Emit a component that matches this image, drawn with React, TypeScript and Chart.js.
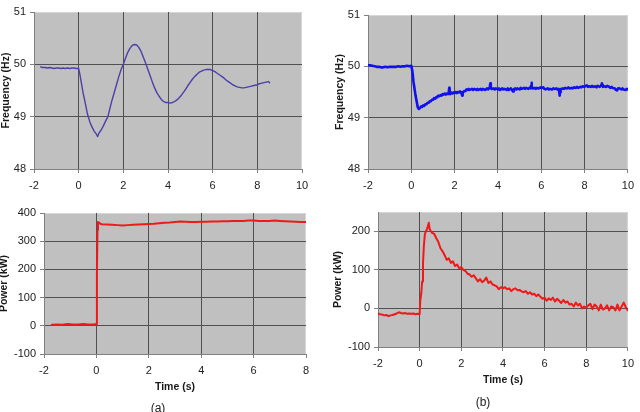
import React, { useEffect, useRef } from 'react';
import { Chart, registerables } from 'chart.js';

Chart.register(...registerables);

type Pt = [number, number];

// (a) frequency response, time (s) vs Hz
const FREQ_A: Pt[] = [
  [-1.7, 49.95], [-1.6, 49.94], [-1.5, 49.94], [-1.4, 49.93], [-1.3, 49.94], [-1.2, 49.93],
  [-1.1, 49.92], [-1.0, 49.93], [-0.9, 49.93], [-0.8, 49.92], [-0.7, 49.93], [-0.6, 49.92],
  [-0.5, 49.93], [-0.4, 49.92], [-0.3, 49.93], [-0.2, 49.93], [-0.1, 49.92], [0.0, 49.92],
  [0.05, 49.82], [0.1, 49.7], [0.2, 49.45], [0.27, 49.31], [0.3, 49.25], [0.4, 49.04],
  [0.5, 48.9], [0.6, 48.8], [0.7, 48.72], [0.8, 48.66], [0.85, 48.62], [0.9, 48.68],
  [1.0, 48.74], [1.1, 48.82], [1.2, 48.91], [1.31, 49.0], [1.4, 49.16], [1.49, 49.31],
  [1.6, 49.47], [1.7, 49.62], [1.8, 49.77], [1.9, 49.9], [2.0, 50.0], [2.1, 50.12],
  [2.2, 50.23], [2.3, 50.31], [2.4, 50.36], [2.5, 50.38], [2.6, 50.37], [2.7, 50.32],
  [2.8, 50.24], [2.9, 50.13], [3.0, 50.02], [3.1, 49.9], [3.2, 49.78], [3.3, 49.66],
  [3.4, 49.55], [3.5, 49.46], [3.6, 49.39], [3.7, 49.33], [3.8, 49.29], [3.9, 49.27],
  [4.0, 49.27], [4.1, 49.26], [4.2, 49.27], [4.3, 49.29], [4.4, 49.32], [4.5, 49.36],
  [4.6, 49.41], [4.7, 49.47], [4.8, 49.53], [4.9, 49.6], [5.0, 49.66], [5.1, 49.72],
  [5.2, 49.77], [5.3, 49.81], [5.4, 49.85], [5.5, 49.87], [5.6, 49.89], [5.7, 49.9],
  [5.8, 49.9], [5.9, 49.9], [6.0, 49.88], [6.1, 49.86], [6.2, 49.83], [6.3, 49.8],
  [6.4, 49.77], [6.5, 49.74], [6.6, 49.7], [6.7, 49.67], [6.8, 49.64], [6.9, 49.61],
  [7.0, 49.59], [7.1, 49.57], [7.2, 49.56], [7.3, 49.55], [7.4, 49.55], [7.5, 49.56],
  [7.6, 49.57], [7.7, 49.58], [7.8, 49.59], [7.9, 49.6], [8.0, 49.61], [8.1, 49.63],
  [8.2, 49.64], [8.3, 49.65], [8.4, 49.66], [8.5, 49.67], [8.55, 49.65],
];

// (b) frequency response
const FREQ_B: Pt[] = [
  [-2.0, 50.02], [-1.9, 50.02], [-1.8, 50.01], [-1.7, 50.0], [-1.6, 49.99], [-1.5, 49.99],
  [-1.4, 49.98], [-1.3, 49.98], [-1.2, 49.99], [-1.1, 49.98], [-1.0, 49.99], [-0.9, 49.99],
  [-0.8, 49.99], [-0.7, 49.99], [-0.6, 50.0], [-0.5, 49.99], [-0.4, 50.0], [-0.3, 50.0],
  [-0.2, 50.01], [-0.1, 50.0], [0.0, 50.01], [0.05, 49.9], [0.1, 49.7], [0.2, 49.42],
  [0.3, 49.2], [0.35, 49.17], [0.4, 49.19], [0.45, 49.22], [0.5, 49.21], [0.55, 49.24],
  [0.6, 49.23], [0.65, 49.26], [0.7, 49.26], [0.75, 49.29], [0.8, 49.29], [0.85, 49.32],
  [0.9, 49.32], [0.95, 49.35], [1.0, 49.35], [1.05, 49.38], [1.1, 49.37], [1.15, 49.4],
  [1.2, 49.4], [1.25, 49.43], [1.3, 49.42], [1.35, 49.44], [1.4, 49.43], [1.45, 49.46],
  [1.5, 49.45], [1.55, 49.47], [1.6, 49.45], [1.65, 49.47], [1.7, 49.46], [1.73, 49.5],
  [1.75, 49.58], [1.77, 49.5], [1.8, 49.46], [1.85, 49.49], [1.9, 49.47], [1.95, 49.49],
  [2.0, 49.48], [2.05, 49.5], [2.1, 49.48], [2.15, 49.5], [2.2, 49.49], [2.25, 49.51],
  [2.3, 49.49], [2.33, 49.46], [2.35, 49.43], [2.37, 49.47], [2.4, 49.5], [2.45, 49.52],
  [2.5, 49.52], [2.55, 49.55], [2.6, 49.54], [2.65, 49.56], [2.7, 49.54], [2.8, 49.56],
  [2.85, 49.54], [2.9, 49.56], [3.0, 49.54], [3.05, 49.56], [3.1, 49.54], [3.2, 49.56],
  [3.25, 49.54], [3.3, 49.56], [3.4, 49.54], [3.5, 49.57], [3.55, 49.55], [3.6, 49.58],
  [3.63, 49.62], [3.65, 49.67], [3.67, 49.6], [3.7, 49.56], [3.8, 49.57], [3.85, 49.55],
  [3.9, 49.57], [4.0, 49.55], [4.05, 49.57], [4.1, 49.54], [4.2, 49.57], [4.25, 49.55],
  [4.3, 49.56], [4.4, 49.54], [4.45, 49.57], [4.5, 49.54], [4.6, 49.57], [4.65, 49.54],
  [4.7, 49.51], [4.73, 49.55], [4.8, 49.57], [4.85, 49.55], [4.9, 49.57], [5.0, 49.55],
  [5.05, 49.58], [5.1, 49.56], [5.2, 49.58], [5.25, 49.56], [5.3, 49.58], [5.4, 49.56],
  [5.45, 49.58], [5.5, 49.57], [5.53, 49.62], [5.55, 49.68], [5.57, 49.61], [5.6, 49.57],
  [5.7, 49.58], [5.75, 49.56], [5.8, 49.58], [5.9, 49.57], [5.95, 49.59], [6.0, 49.58],
  [6.1, 49.59], [6.15, 49.56], [6.2, 49.55], [6.3, 49.57], [6.35, 49.55], [6.4, 49.56],
  [6.5, 49.55], [6.55, 49.57], [6.6, 49.56], [6.7, 49.57], [6.75, 49.55], [6.8, 49.56],
  [6.83, 49.5], [6.85, 49.43], [6.87, 49.5], [6.9, 49.56], [7.0, 49.57], [7.05, 49.56],
  [7.1, 49.58], [7.2, 49.57], [7.25, 49.59], [7.3, 49.57], [7.4, 49.58], [7.45, 49.57],
  [7.5, 49.59], [7.6, 49.58], [7.65, 49.6], [7.7, 49.58], [7.8, 49.6], [7.85, 49.59],
  [7.9, 49.61], [8.0, 49.6], [8.05, 49.62], [8.1, 49.63], [8.15, 49.6], [8.2, 49.61],
  [8.3, 49.6], [8.35, 49.62], [8.4, 49.6], [8.5, 49.61], [8.55, 49.59], [8.6, 49.62],
  [8.7, 49.6], [8.75, 49.62], [8.78, 49.64], [8.8, 49.67], [8.82, 49.63], [8.85, 49.6],
  [8.9, 49.61], [9.0, 49.6], [9.05, 49.62], [9.1, 49.61], [9.2, 49.58], [9.25, 49.6],
  [9.3, 49.58], [9.4, 49.57], [9.45, 49.54], [9.5, 49.53], [9.55, 49.57], [9.6, 49.57],
  [9.7, 49.55], [9.75, 49.57], [9.8, 49.55], [9.9, 49.54], [9.95, 49.56], [10.0, 49.55],
];

// (a) power, kW
const POWER_A: Pt[] = [
  [-1.7, 4], [-1.5, 5], [-1.3, 4], [-1.1, 6], [-0.9, 5], [-0.7, 5], [-0.5, 6], [-0.3, 5],
  [-0.1, 5], [0.0, 6], [0.02, 180], [0.04, 340], [0.06, 368], [0.1, 366], [0.15, 362],
  [0.2, 360], [0.4, 359], [0.6, 358], [0.8, 357], [1.0, 356], [1.2, 357], [1.4, 358],
  [1.6, 359], [1.8, 360], [2.0, 361], [2.2, 362], [2.4, 364], [2.6, 365], [2.8, 366],
  [3.0, 368], [3.2, 370], [3.4, 369], [3.6, 368], [3.8, 368], [4.0, 369], [4.2, 369],
  [4.4, 370], [4.6, 370], [4.8, 371], [5.0, 371], [5.2, 372], [5.4, 372], [5.6, 372],
  [5.8, 373], [6.0, 373], [6.2, 372], [6.4, 372], [6.6, 372], [6.8, 373], [7.0, 372],
  [7.2, 371], [7.4, 370], [7.6, 369], [7.8, 368], [8.0, 368],
];

// (b) power, kW
const POWER_B: Pt[] = [
  [-2.0, -13], [-1.9, -15], [-1.8, -16], [-1.7, -18], [-1.6, -17], [-1.5, -20], [-1.4, -18],
  [-1.3, -17], [-1.2, -15], [-1.1, -13], [-1.0, -10], [-0.9, -12], [-0.8, -13], [-0.7, -12],
  [-0.6, -14], [-0.5, -13], [-0.4, -14], [-0.3, -13], [-0.2, -15], [-0.1, -14], [0.0, -15],
  [0.03, 20], [0.08, 40], [0.12, 70], [0.16, 115], [0.2, 160], [0.25, 192], [0.3, 200],
  [0.35, 205], [0.4, 214], [0.44, 222], [0.48, 206], [0.52, 202], [0.6, 196], [0.7, 193],
  [0.8, 182], [0.9, 172], [1.0, 156], [1.1, 148], [1.2, 138], [1.3, 126], [1.4, 130],
  [1.5, 118], [1.6, 122], [1.7, 110], [1.8, 114], [1.9, 104], [2.0, 107], [2.1, 100],
  [2.2, 97], [2.3, 90], [2.4, 88], [2.5, 82], [2.6, 86], [2.7, 78], [2.8, 70], [2.9, 76],
  [3.0, 68], [3.1, 72], [3.2, 80], [3.3, 66], [3.4, 70], [3.5, 62], [3.6, 60], [3.7, 57],
  [3.8, 50], [3.9, 55], [4.0, 52], [4.1, 55], [4.2, 50], [4.3, 52], [4.4, 45], [4.5, 50],
  [4.6, 52], [4.7, 47], [4.8, 48], [4.9, 44], [5.0, 42], [5.1, 45], [5.2, 38], [5.3, 42],
  [5.4, 36], [5.5, 38], [5.6, 32], [5.7, 36], [5.8, 30], [5.9, 25], [6.0, 28], [6.1, 20],
  [6.2, 26], [6.3, 22], [6.4, 28], [6.5, 18], [6.6, 25], [6.7, 20], [6.8, 14], [6.9, 22],
  [7.0, 15], [7.1, 18], [7.2, 10], [7.3, 12], [7.4, 5], [7.5, 15], [7.6, 8], [7.7, 12],
  [7.8, 0], [7.9, 5], [8.0, 2], [8.1, 8], [8.2, 12], [8.3, -2], [8.4, 10], [8.5, 5],
  [8.6, -5], [8.7, 10], [8.8, -3], [8.9, 0], [9.0, 8], [9.1, -5], [9.2, 5], [9.3, 3],
  [9.4, -5], [9.5, 10], [9.6, -5], [9.7, 5], [9.8, 15], [9.9, 3], [10.0, -5],
];

const FREQ_TICKS = [48, 49, 50, 51];
const POWER_A_TICKS = [-100, 0, 100, 200, 300, 400];
const POWER_B_TICKS = [-100, 0, 100, 200];

const FONT = '"Liberation Sans", Arial, sans-serif';

interface PanelCfg {
  left: number; top: number; w: number; h: number;
  pad: { top: number; right: number; bottom: number; left: number };
  yWidth: number; xHeight: number;
  xMin: number; xMax: number;
  yMin: number; yMax: number; yTicks: number[];
  yTitle: string; xTitle?: string;
  data: Pt[]; color: string; lineWidth: number;
}

const PANELS: PanelCfg[] = [
  {
    left: 0, top: 0, w: 320, h: 200, pad: { top: 12, right: 18, bottom: 0, left: 0 },
    yWidth: 34, xHeight: 31, xMin: -2, xMax: 10, yMin: 48, yMax: 51, yTicks: FREQ_TICKS,
    yTitle: 'Frequency (Hz)', data: FREQ_A, color: '#4a40a8', lineWidth: 1.4,
  },
  {
    left: 334, top: 0, w: 306, h: 200, pad: { top: 15, right: 8, bottom: 0, left: 0 },
    yWidth: 34, xHeight: 31, xMin: -2, xMax: 10, yMin: 48, yMax: 51, yTicks: FREQ_TICKS,
    yTitle: 'Frequency (Hz)', data: FREQ_B, color: '#1010f0', lineWidth: 2.6,
  },
  {
    left: -2, top: 200, w: 322, h: 212, pad: { top: 13, right: 14, bottom: 19, left: 0 },
    yWidth: 46, xHeight: 39, xMin: -2, xMax: 8, yMin: -100, yMax: 400, yTicks: POWER_A_TICKS,
    yTitle: 'Power (kW)', xTitle: 'Time (s)', data: POWER_A, color: '#f01818', lineWidth: 2,
  },
  {
    left: 332, top: 200, w: 308, h: 212, pad: { top: 12, right: 8, bottom: 26, left: 0 },
    yWidth: 46, xHeight: 39, xMin: -2, xMax: 10, yMin: -100, yMax: 250, yTicks: POWER_B_TICKS,
    yTitle: 'Power (kW)', xTitle: 'Time (s)', data: POWER_B, color: '#f01818', lineWidth: 2,
  },
];

const plotBg = {
  id: 'plotBg',
  beforeDraw(chart: any) {
    const { ctx, chartArea: a } = chart;
    ctx.save();
    ctx.fillStyle = '#c0c0c0';
    ctx.fillRect(a.left, a.top, a.right - a.left, a.bottom - a.top);
    ctx.strokeStyle = '#d6d6d6';
    ctx.lineWidth = 1;
    ctx.beginPath();
    ctx.moveTo(a.left, a.top + 0.5);
    ctx.lineTo(a.right - 0.5, a.top + 0.5);
    ctx.lineTo(a.right - 0.5, a.bottom);
    ctx.stroke();
    ctx.restore();
  },
};

function Panel({ cfg }: { cfg: PanelCfg }) {
  const ref = useRef<HTMLCanvasElement>(null);
  useEffect(() => {
    const gridColor = (min: number, max: number) => (c: any) =>
      c.tick && (c.tick.value === min || c.tick.value === max) ? 'rgba(0,0,0,0)' : '#505050';
    const chart = new Chart(ref.current as HTMLCanvasElement, {
      type: 'line',
      data: {
        datasets: [{
          data: cfg.data.map(([x, y]) => ({ x, y })),
          borderColor: cfg.color,
          borderWidth: cfg.lineWidth,
          borderJoinStyle: 'round',
          borderCapStyle: 'round',
          pointRadius: 0,
          tension: 0,
          fill: false,
        }],
      },
      options: {
        animation: false,
        responsive: false,
        devicePixelRatio: 1,
        layout: { padding: cfg.pad },
        plugins: { legend: { display: false }, tooltip: { enabled: false } },
        scales: {
          x: {
            type: 'linear', min: cfg.xMin, max: cfg.xMax,
            afterFit: (s: any) => { s.height = cfg.xHeight; },
            ticks: { stepSize: 2, color: '#222', padding: 6, maxRotation: 0, font: { family: FONT, size: 11 } },
            grid: { color: gridColor(cfg.xMin, cfg.xMax), tickColor: '#808080', tickLength: 4, lineWidth: 1 },
            border: { color: '#808080', width: 1 },
            title: cfg.xTitle ? {
              display: true, text: cfg.xTitle, color: '#1a1a1a', padding: 0,
              font: { family: FONT, size: 10.5, weight: 'bold' },
            } : { display: false },
          },
          y: {
            type: 'linear', min: cfg.yMin, max: cfg.yMax,
            afterFit: (s: any) => { s.width = cfg.yWidth; },
            afterBuildTicks: (s: any) => { s.ticks = cfg.yTicks.map((v) => ({ value: v })); },
            ticks: { color: '#222', padding: 4, font: { family: FONT, size: 11 } },
            grid: { color: gridColor(cfg.yMin, cfg.yMax), tickColor: '#808080', tickLength: 4, lineWidth: 1 },
            border: { color: '#808080', width: 1 },
            title: {
              display: true, text: cfg.yTitle, color: '#1a1a1a', padding: 0,
              font: { family: FONT, size: 10.5, weight: 'bold' },
            },
          },
        },
      } as any,
      plugins: [plotBg],
    });
    return () => chart.destroy();
  }, [cfg]);
  return (
    <canvas
      ref={ref}
      width={cfg.w}
      height={cfg.h}
      style={{ position: 'absolute', left: cfg.left, top: cfg.top, width: cfg.w, height: cfg.h, display: 'block' }}
    />
  );
}

export default function App() {
  return (
    <div style={{ position: 'fixed', left: 0, top: 0, width: 640, height: 412, background: '#fff', overflow: 'hidden' }}>
      {PANELS.map((p, i) => <Panel key={i} cfg={p} />)}
      <div style={{ position: 'absolute', left: 140, top: 401, width: 36, textAlign: 'center', fontFamily: FONT, fontSize: 12, lineHeight: '14px', color: '#222' }}>(a)</div>
      <div style={{ position: 'absolute', left: 465, top: 395, width: 36, textAlign: 'center', fontFamily: FONT, fontSize: 12, lineHeight: '14px', color: '#222' }}>(b)</div>
    </div>
  );
}
